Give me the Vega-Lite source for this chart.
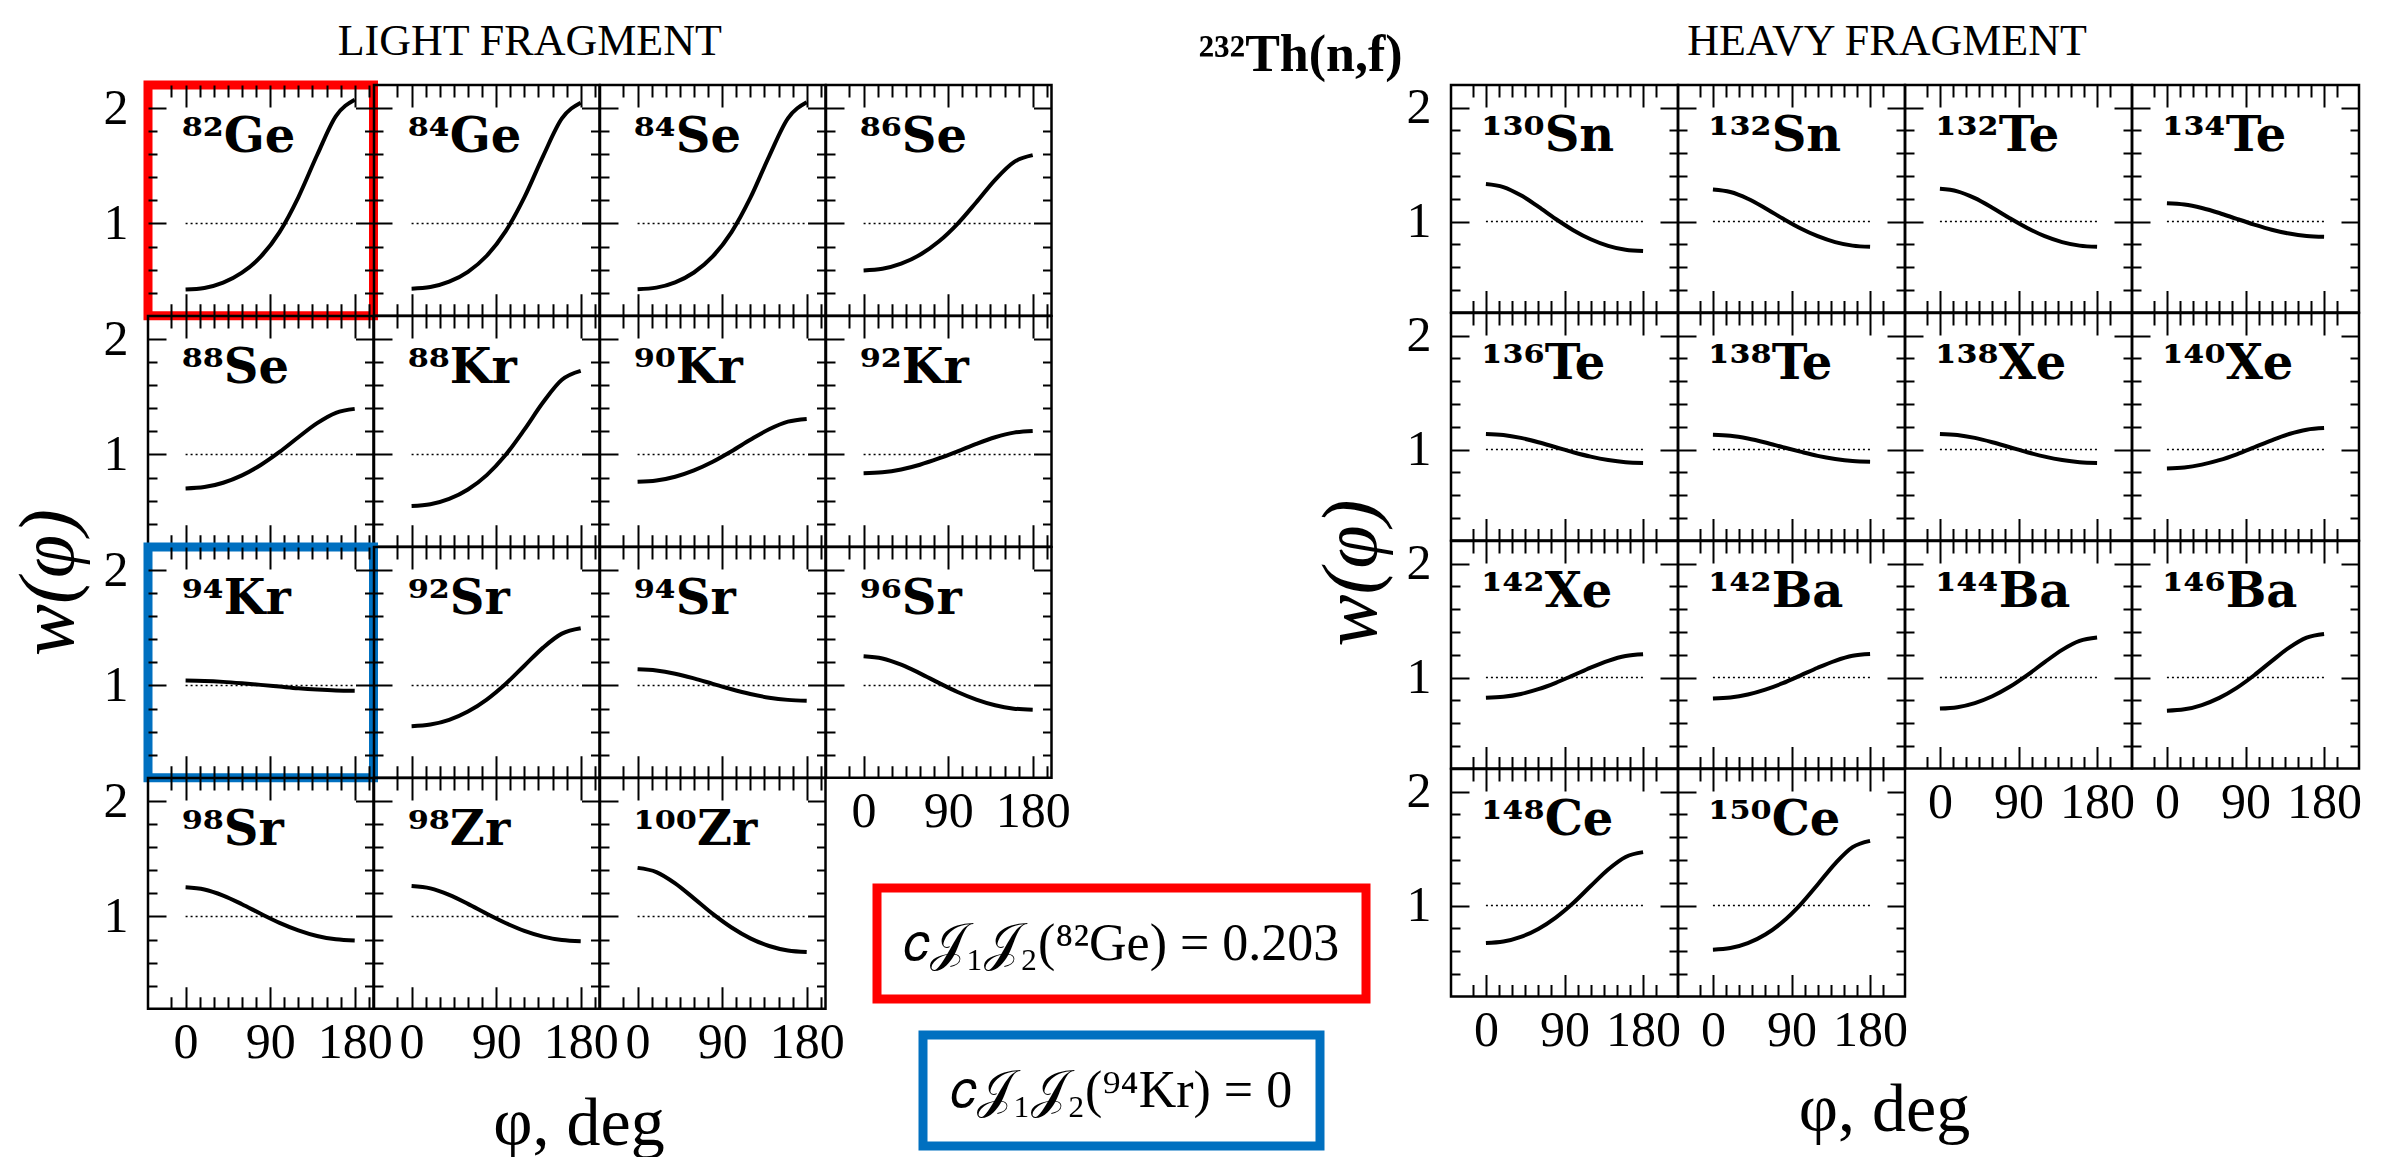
{
"$schema": "https://vega.github.io/schema/vega-lite/v6.json",
"background": "white",
"padding": {"left": 8, "top": 18, "right": 5, "bottom": 5},
"datasets": {"d": [
{"n":"82Ge","phi":0,"w":0.427},{"n":"82Ge","phi":20,"w":0.441},{"n":"82Ge","phi":40,"w":0.487},{"n":"82Ge","phi":60,"w":0.573},{"n":"82Ge","phi":80,"w":0.712},{"n":"82Ge","phi":100,"w":0.925},{"n":"82Ge","phi":120,"w":1.227},{"n":"82Ge","phi":140,"w":1.593},{"n":"82Ge","phi":160,"w":1.931},{"n":"82Ge","phi":180,"w":2.073},
{"n":"84Ge","phi":0,"w":0.435},{"n":"84Ge","phi":20,"w":0.449},{"n":"84Ge","phi":40,"w":0.495},{"n":"84Ge","phi":60,"w":0.581},{"n":"84Ge","phi":80,"w":0.720},{"n":"84Ge","phi":100,"w":0.931},{"n":"84Ge","phi":120,"w":1.226},{"n":"84Ge","phi":140,"w":1.584},{"n":"84Ge","phi":160,"w":1.910},{"n":"84Ge","phi":180,"w":2.047},
{"n":"84Se","phi":0,"w":0.430},{"n":"84Se","phi":20,"w":0.444},{"n":"84Se","phi":40,"w":0.490},{"n":"84Se","phi":60,"w":0.575},{"n":"84Se","phi":80,"w":0.714},{"n":"84Se","phi":100,"w":0.925},{"n":"84Se","phi":120,"w":1.221},{"n":"84Se","phi":140,"w":1.582},{"n":"84Se","phi":160,"w":1.911},{"n":"84Se","phi":180,"w":2.050},
{"n":"86Se","phi":0,"w":0.593},{"n":"86Se","phi":20,"w":0.607},{"n":"86Se","phi":40,"w":0.651},{"n":"86Se","phi":60,"w":0.728},{"n":"86Se","phi":80,"w":0.843},{"n":"86Se","phi":100,"w":0.997},{"n":"86Se","phi":120,"w":1.184},{"n":"86Se","phi":140,"w":1.378},{"n":"86Se","phi":160,"w":1.532},{"n":"86Se","phi":180,"w":1.592},
{"n":"88Se","phi":0,"w":0.705},{"n":"88Se","phi":20,"w":0.717},{"n":"88Se","phi":40,"w":0.755},{"n":"88Se","phi":60,"w":0.819},{"n":"88Se","phi":80,"w":0.909},{"n":"88Se","phi":100,"w":1.022},{"n":"88Se","phi":120,"w":1.149},{"n":"88Se","phi":140,"w":1.271},{"n":"88Se","phi":160,"w":1.361},{"n":"88Se","phi":180,"w":1.395},
{"n":"88Kr","phi":0,"w":0.553},{"n":"88Kr","phi":20,"w":0.568},{"n":"88Kr","phi":40,"w":0.614},{"n":"88Kr","phi":60,"w":0.696},{"n":"88Kr","phi":80,"w":0.821},{"n":"88Kr","phi":100,"w":0.995},{"n":"88Kr","phi":120,"w":1.215},{"n":"88Kr","phi":140,"w":1.452},{"n":"88Kr","phi":160,"w":1.647},{"n":"88Kr","phi":180,"w":1.724},
{"n":"90Kr","phi":0,"w":0.763},{"n":"90Kr","phi":20,"w":0.774},{"n":"90Kr","phi":40,"w":0.807},{"n":"90Kr","phi":60,"w":0.862},{"n":"90Kr","phi":80,"w":0.937},{"n":"90Kr","phi":100,"w":1.028},{"n":"90Kr","phi":120,"w":1.127},{"n":"90Kr","phi":140,"w":1.218},{"n":"90Kr","phi":160,"w":1.284},{"n":"90Kr","phi":180,"w":1.308},
{"n":"92Kr","phi":0,"w":0.837},{"n":"92Kr","phi":20,"w":0.845},{"n":"92Kr","phi":40,"w":0.870},{"n":"92Kr","phi":60,"w":0.911},{"n":"92Kr","phi":80,"w":0.965},{"n":"92Kr","phi":100,"w":1.027},{"n":"92Kr","phi":120,"w":1.092},{"n":"92Kr","phi":140,"w":1.149},{"n":"92Kr","phi":160,"w":1.189},{"n":"92Kr","phi":180,"w":1.203},
{"n":"94Kr","phi":0,"w":1.042},{"n":"94Kr","phi":20,"w":1.039},{"n":"94Kr","phi":40,"w":1.031},{"n":"94Kr","phi":60,"w":1.019},{"n":"94Kr","phi":80,"w":1.005},{"n":"94Kr","phi":100,"w":0.990},{"n":"94Kr","phi":120,"w":0.975},{"n":"94Kr","phi":140,"w":0.964},{"n":"94Kr","phi":160,"w":0.957},{"n":"94Kr","phi":180,"w":0.955},
{"n":"92Sr","phi":0,"w":0.647},{"n":"92Sr","phi":20,"w":0.661},{"n":"92Sr","phi":40,"w":0.702},{"n":"92Sr","phi":60,"w":0.774},{"n":"92Sr","phi":80,"w":0.878},{"n":"92Sr","phi":100,"w":1.013},{"n":"92Sr","phi":120,"w":1.171},{"n":"92Sr","phi":140,"w":1.328},{"n":"92Sr","phi":160,"w":1.449},{"n":"92Sr","phi":180,"w":1.495},
{"n":"94Sr","phi":0,"w":1.140},{"n":"94Sr","phi":20,"w":1.130},{"n":"94Sr","phi":40,"w":1.102},{"n":"94Sr","phi":60,"w":1.061},{"n":"94Sr","phi":80,"w":1.014},{"n":"94Sr","phi":100,"w":0.967},{"n":"94Sr","phi":120,"w":0.926},{"n":"94Sr","phi":140,"w":0.894},{"n":"94Sr","phi":160,"w":0.875},{"n":"94Sr","phi":180,"w":0.868},
{"n":"96Sr","phi":0,"w":1.253},{"n":"96Sr","phi":20,"w":1.234},{"n":"96Sr","phi":40,"w":1.180},{"n":"96Sr","phi":60,"w":1.105},{"n":"96Sr","phi":80,"w":1.022},{"n":"96Sr","phi":100,"w":0.943},{"n":"96Sr","phi":120,"w":0.877},{"n":"96Sr","phi":140,"w":0.828},{"n":"96Sr","phi":160,"w":0.799},{"n":"96Sr","phi":180,"w":0.789},
{"n":"98Sr","phi":0,"w":1.253},{"n":"98Sr","phi":20,"w":1.234},{"n":"98Sr","phi":40,"w":1.181},{"n":"98Sr","phi":60,"w":1.106},{"n":"98Sr","phi":80,"w":1.023},{"n":"98Sr","phi":100,"w":0.945},{"n":"98Sr","phi":120,"w":0.880},{"n":"98Sr","phi":140,"w":0.831},{"n":"98Sr","phi":160,"w":0.802},{"n":"98Sr","phi":180,"w":0.792},
{"n":"98Zr","phi":0,"w":1.263},{"n":"98Zr","phi":20,"w":1.243},{"n":"98Zr","phi":40,"w":1.187},{"n":"98Zr","phi":60,"w":1.109},{"n":"98Zr","phi":80,"w":1.023},{"n":"98Zr","phi":100,"w":0.943},{"n":"98Zr","phi":120,"w":0.875},{"n":"98Zr","phi":140,"w":0.825},{"n":"98Zr","phi":160,"w":0.795},{"n":"98Zr","phi":180,"w":0.785},
{"n":"100Zr","phi":0,"w":1.421},{"n":"100Zr","phi":20,"w":1.385},{"n":"100Zr","phi":40,"w":1.287},{"n":"100Zr","phi":60,"w":1.157},{"n":"100Zr","phi":80,"w":1.022},{"n":"100Zr","phi":100,"w":0.904},{"n":"100Zr","phi":120,"w":0.810},{"n":"100Zr","phi":140,"w":0.744},{"n":"100Zr","phi":160,"w":0.705},{"n":"100Zr","phi":180,"w":0.692},
{"n":"130Sn","phi":0,"w":1.330},{"n":"130Sn","phi":20,"w":1.303},{"n":"130Sn","phi":40,"w":1.230},{"n":"130Sn","phi":60,"w":1.130},{"n":"130Sn","phi":80,"w":1.022},{"n":"130Sn","phi":100,"w":0.924},{"n":"130Sn","phi":120,"w":0.844},{"n":"130Sn","phi":140,"w":0.786},{"n":"130Sn","phi":160,"w":0.751},{"n":"130Sn","phi":180,"w":0.740},
{"n":"132Sn","phi":0,"w":1.281},{"n":"132Sn","phi":20,"w":1.259},{"n":"132Sn","phi":40,"w":1.200},{"n":"132Sn","phi":60,"w":1.117},{"n":"132Sn","phi":80,"w":1.026},{"n":"132Sn","phi":100,"w":0.941},{"n":"132Sn","phi":120,"w":0.871},{"n":"132Sn","phi":140,"w":0.819},{"n":"132Sn","phi":160,"w":0.788},{"n":"132Sn","phi":180,"w":0.777},
{"n":"132Te","phi":0,"w":1.287},{"n":"132Te","phi":20,"w":1.265},{"n":"132Te","phi":40,"w":1.205},{"n":"132Te","phi":60,"w":1.121},{"n":"132Te","phi":80,"w":1.029},{"n":"132Te","phi":100,"w":0.943},{"n":"132Te","phi":120,"w":0.871},{"n":"132Te","phi":140,"w":0.819},{"n":"132Te","phi":160,"w":0.788},{"n":"132Te","phi":180,"w":0.777},
{"n":"134Te","phi":0,"w":1.161},{"n":"134Te","phi":20,"w":1.150},{"n":"134Te","phi":40,"w":1.119},{"n":"134Te","phi":60,"w":1.075},{"n":"134Te","phi":80,"w":1.023},{"n":"134Te","phi":100,"w":0.973},{"n":"134Te","phi":120,"w":0.928},{"n":"134Te","phi":140,"w":0.894},{"n":"134Te","phi":160,"w":0.873},{"n":"134Te","phi":180,"w":0.866},
{"n":"136Te","phi":0,"w":1.137},{"n":"136Te","phi":20,"w":1.128},{"n":"136Te","phi":40,"w":1.102},{"n":"136Te","phi":60,"w":1.064},{"n":"136Te","phi":80,"w":1.020},{"n":"136Te","phi":100,"w":0.976},{"n":"136Te","phi":120,"w":0.937},{"n":"136Te","phi":140,"w":0.907},{"n":"136Te","phi":160,"w":0.888},{"n":"136Te","phi":180,"w":0.882},
{"n":"138Te","phi":0,"w":1.129},{"n":"138Te","phi":20,"w":1.121},{"n":"138Te","phi":40,"w":1.097},{"n":"138Te","phi":60,"w":1.062},{"n":"138Te","phi":80,"w":1.021},{"n":"138Te","phi":100,"w":0.981},{"n":"138Te","phi":120,"w":0.944},{"n":"138Te","phi":140,"w":0.917},{"n":"138Te","phi":160,"w":0.899},{"n":"138Te","phi":180,"w":0.893},
{"n":"138Xe","phi":0,"w":1.137},{"n":"138Xe","phi":20,"w":1.128},{"n":"138Xe","phi":40,"w":1.102},{"n":"138Xe","phi":60,"w":1.064},{"n":"138Xe","phi":80,"w":1.020},{"n":"138Xe","phi":100,"w":0.976},{"n":"138Xe","phi":120,"w":0.937},{"n":"138Xe","phi":140,"w":0.907},{"n":"138Xe","phi":160,"w":0.888},{"n":"138Xe","phi":180,"w":0.882},
{"n":"140Xe","phi":0,"w":0.834},{"n":"140Xe","phi":20,"w":0.842},{"n":"140Xe","phi":40,"w":0.867},{"n":"140Xe","phi":60,"w":0.906},{"n":"140Xe","phi":80,"w":0.958},{"n":"140Xe","phi":100,"w":1.019},{"n":"140Xe","phi":120,"w":1.081},{"n":"140Xe","phi":140,"w":1.136},{"n":"140Xe","phi":160,"w":1.174},{"n":"140Xe","phi":180,"w":1.188},
{"n":"142Xe","phi":0,"w":0.821},{"n":"142Xe","phi":20,"w":0.830},{"n":"142Xe","phi":40,"w":0.855},{"n":"142Xe","phi":60,"w":0.897},{"n":"142Xe","phi":80,"w":0.953},{"n":"142Xe","phi":100,"w":1.019},{"n":"142Xe","phi":120,"w":1.087},{"n":"142Xe","phi":140,"w":1.147},{"n":"142Xe","phi":160,"w":1.189},{"n":"142Xe","phi":180,"w":1.204},
{"n":"142Ba","phi":0,"w":0.816},{"n":"142Ba","phi":20,"w":0.825},{"n":"142Ba","phi":40,"w":0.851},{"n":"142Ba","phi":60,"w":0.894},{"n":"142Ba","phi":80,"w":0.950},{"n":"142Ba","phi":100,"w":1.017},{"n":"142Ba","phi":120,"w":1.086},{"n":"142Ba","phi":140,"w":1.147},{"n":"142Ba","phi":160,"w":1.191},{"n":"142Ba","phi":180,"w":1.206},
{"n":"144Ba","phi":0,"w":0.727},{"n":"144Ba","phi":20,"w":0.739},{"n":"144Ba","phi":40,"w":0.775},{"n":"144Ba","phi":60,"w":0.835},{"n":"144Ba","phi":80,"w":0.918},{"n":"144Ba","phi":100,"w":1.021},{"n":"144Ba","phi":120,"w":1.135},{"n":"144Ba","phi":140,"w":1.243},{"n":"144Ba","phi":160,"w":1.322},{"n":"144Ba","phi":180,"w":1.351},
{"n":"146Ba","phi":0,"w":0.708},{"n":"146Ba","phi":20,"w":0.720},{"n":"146Ba","phi":40,"w":0.758},{"n":"146Ba","phi":60,"w":0.821},{"n":"146Ba","phi":80,"w":0.909},{"n":"146Ba","phi":100,"w":1.020},{"n":"146Ba","phi":120,"w":1.144},{"n":"146Ba","phi":140,"w":1.263},{"n":"146Ba","phi":160,"w":1.351},{"n":"146Ba","phi":180,"w":1.383},
{"n":"148Ce","phi":0,"w":0.670},{"n":"148Ce","phi":20,"w":0.683},{"n":"148Ce","phi":40,"w":0.724},{"n":"148Ce","phi":60,"w":0.794},{"n":"148Ce","phi":80,"w":0.894},{"n":"148Ce","phi":100,"w":1.022},{"n":"148Ce","phi":120,"w":1.171},{"n":"148Ce","phi":140,"w":1.317},{"n":"148Ce","phi":160,"w":1.427},{"n":"148Ce","phi":180,"w":1.469},
{"n":"150Ce","phi":0,"w":0.612},{"n":"150Ce","phi":20,"w":0.626},{"n":"150Ce","phi":40,"w":0.669},{"n":"150Ce","phi":60,"w":0.745},{"n":"150Ce","phi":80,"w":0.857},{"n":"150Ce","phi":100,"w":1.006},{"n":"150Ce","phi":120,"w":1.185},{"n":"150Ce","phi":140,"w":1.369},{"n":"150Ce","phi":160,"w":1.513},{"n":"150Ce","phi":180,"w":1.568}
]},
"hconcat": [
{"columns": 4, "spacing": 0, "bounds": "flush", "concat": [
{"width":225.5,"height":230.75,"view":{"stroke":"#ff0000","strokeWidth":9},"data":{"name":"d"},"transform":[{"filter":"datum.n==='82Ge'"}],"layer":[
 {"mark":{"type":"line","interpolate":"monotone"},"encoding":{"x":{"field":"phi","type":"quantitative","scale":{"domain":[-27,199.5]},"title":null,"axis":{"values":[-15,0,15,30,45,60,75,90,105,120,135,150,165,180,195]}},"y":{"field":"w","type":"quantitative","scale":{"domain":[0.343,2.166]},"title":null,"axis":{"values":[0.4,0.6,0.8,1,1.2,1.4,1.6,1.8,2],"labels":true,"labelOverlap":false}}}},
 {"data":{"values":[{}]},"mark":{"type":"rule","strokeDash":[2,3],"strokeWidth":1.5},"encoding":{"x":{"datum":0,"type":"quantitative","title":null,"axis":{"orient":"top","values":[-15,0,15,30,45,60,75,90,105,120,135,150,165,180,195]}},"x2":{"datum":180},"y":{"datum":1,"type":"quantitative","title":null,"axis":{"orient":"right","values":[0.4,0.6,0.8,1,1.2,1.4,1.6,1.8,2]}}}},
 {"data":{"values":[{}]},"mark":{"type":"text","text":"⁸²Ge"},"encoding":{"x":{"datum":-4,"type":"quantitative","axis":null},"y":{"datum":1.62,"type":"quantitative","axis":null}}}
],"resolve":{"axis":{"x":"independent","y":"independent"}}},
{"width":225.5,"height":230.75,"title":{"text":"LIGHT FRAGMENT","fontSize":44,"dx":43,"offset":-15,"baseline":"alphabetic"},"data":{"name":"d"},"transform":[{"filter":"datum.n==='84Ge'"}],"layer":[
 {"mark":{"type":"line","interpolate":"monotone"},"encoding":{"x":{"field":"phi","type":"quantitative","scale":{"domain":[-27,199.5]},"title":null,"axis":{"values":[-15,0,15,30,45,60,75,90,105,120,135,150,165,180,195]}},"y":{"field":"w","type":"quantitative","scale":{"domain":[0.343,2.166]},"title":null,"axis":{"values":[0.4,0.6,0.8,1,1.2,1.4,1.6,1.8,2]}}}},
 {"data":{"values":[{}]},"mark":{"type":"rule","strokeDash":[2,3],"strokeWidth":1.5},"encoding":{"x":{"datum":0,"type":"quantitative","title":null,"axis":{"orient":"top","values":[-15,0,15,30,45,60,75,90,105,120,135,150,165,180,195]}},"x2":{"datum":180},"y":{"datum":1,"type":"quantitative","title":null,"axis":{"orient":"right","values":[0.4,0.6,0.8,1,1.2,1.4,1.6,1.8,2]}}}},
 {"data":{"values":[{}]},"mark":{"type":"text","text":"⁸⁴Ge"},"encoding":{"x":{"datum":-4,"type":"quantitative","axis":null},"y":{"datum":1.62,"type":"quantitative","axis":null}}}
],"resolve":{"axis":{"x":"independent","y":"independent"}}},
{"width":225.5,"height":230.75,"data":{"name":"d"},"transform":[{"filter":"datum.n==='84Se'"}],"layer":[
 {"mark":{"type":"line","interpolate":"monotone"},"encoding":{"x":{"field":"phi","type":"quantitative","scale":{"domain":[-27,199.5]},"title":null,"axis":{"values":[-15,0,15,30,45,60,75,90,105,120,135,150,165,180,195]}},"y":{"field":"w","type":"quantitative","scale":{"domain":[0.343,2.166]},"title":null,"axis":{"values":[0.4,0.6,0.8,1,1.2,1.4,1.6,1.8,2]}}}},
 {"data":{"values":[{}]},"mark":{"type":"rule","strokeDash":[2,3],"strokeWidth":1.5},"encoding":{"x":{"datum":0,"type":"quantitative","title":null,"axis":{"orient":"top","values":[-15,0,15,30,45,60,75,90,105,120,135,150,165,180,195]}},"x2":{"datum":180},"y":{"datum":1,"type":"quantitative","title":null,"axis":{"orient":"right","values":[0.4,0.6,0.8,1,1.2,1.4,1.6,1.8,2]}}}},
 {"data":{"values":[{}]},"mark":{"type":"text","text":"⁸⁴Se"},"encoding":{"x":{"datum":-4,"type":"quantitative","axis":null},"y":{"datum":1.62,"type":"quantitative","axis":null}}}
],"resolve":{"axis":{"x":"independent","y":"independent"}}},
{"width":225.5,"height":230.75,"data":{"name":"d"},"transform":[{"filter":"datum.n==='86Se'"}],"layer":[
 {"mark":{"type":"line","interpolate":"monotone"},"encoding":{"x":{"field":"phi","type":"quantitative","scale":{"domain":[-27,199.5]},"title":null,"axis":{"values":[-15,0,15,30,45,60,75,90,105,120,135,150,165,180,195]}},"y":{"field":"w","type":"quantitative","scale":{"domain":[0.343,2.166]},"title":null,"axis":{"values":[0.4,0.6,0.8,1,1.2,1.4,1.6,1.8,2]}}}},
 {"data":{"values":[{}]},"mark":{"type":"rule","strokeDash":[2,3],"strokeWidth":1.5},"encoding":{"x":{"datum":0,"type":"quantitative","title":null,"axis":{"orient":"top","values":[-15,0,15,30,45,60,75,90,105,120,135,150,165,180,195]}},"x2":{"datum":180},"y":{"datum":1,"type":"quantitative","title":null,"axis":{"orient":"right","values":[0.4,0.6,0.8,1,1.2,1.4,1.6,1.8,2]}}}},
 {"data":{"values":[{}]},"mark":{"type":"text","text":"⁸⁶Se"},"encoding":{"x":{"datum":-4,"type":"quantitative","axis":null},"y":{"datum":1.62,"type":"quantitative","axis":null}}}
],"resolve":{"axis":{"x":"independent","y":"independent"}}},
{"width":225.5,"height":230.75,"data":{"name":"d"},"transform":[{"filter":"datum.n==='88Se'"}],"layer":[
 {"mark":{"type":"line","interpolate":"monotone"},"encoding":{"x":{"field":"phi","type":"quantitative","scale":{"domain":[-27,199.5]},"title":null,"axis":{"values":[-15,0,15,30,45,60,75,90,105,120,135,150,165,180,195]}},"y":{"field":"w","type":"quantitative","scale":{"domain":[0.343,2.166]},"title":"w(φ)","axis":{"values":[0.4,0.6,0.8,1,1.2,1.4,1.6,1.8,2],"labels":true,"labelOverlap":false,"titleFontSize":78,"titleFontStyle":"italic","titleX":-76,"titleY":266,"titleAngle":270,"titleAlign":"center","titleBaseline":"alphabetic"}}}},
 {"data":{"values":[{}]},"mark":{"type":"rule","strokeDash":[2,3],"strokeWidth":1.5},"encoding":{"x":{"datum":0,"type":"quantitative","title":null,"axis":{"orient":"top","values":[-15,0,15,30,45,60,75,90,105,120,135,150,165,180,195]}},"x2":{"datum":180},"y":{"datum":1,"type":"quantitative","title":null,"axis":{"orient":"right","values":[0.4,0.6,0.8,1,1.2,1.4,1.6,1.8,2]}}}},
 {"data":{"values":[{}]},"mark":{"type":"text","text":"⁸⁸Se"},"encoding":{"x":{"datum":-4,"type":"quantitative","axis":null},"y":{"datum":1.62,"type":"quantitative","axis":null}}}
],"resolve":{"axis":{"x":"independent","y":"independent"}}},
{"width":225.5,"height":230.75,"data":{"name":"d"},"transform":[{"filter":"datum.n==='88Kr'"}],"layer":[
 {"mark":{"type":"line","interpolate":"monotone"},"encoding":{"x":{"field":"phi","type":"quantitative","scale":{"domain":[-27,199.5]},"title":null,"axis":{"values":[-15,0,15,30,45,60,75,90,105,120,135,150,165,180,195]}},"y":{"field":"w","type":"quantitative","scale":{"domain":[0.343,2.166]},"title":null,"axis":{"values":[0.4,0.6,0.8,1,1.2,1.4,1.6,1.8,2]}}}},
 {"data":{"values":[{}]},"mark":{"type":"rule","strokeDash":[2,3],"strokeWidth":1.5},"encoding":{"x":{"datum":0,"type":"quantitative","title":null,"axis":{"orient":"top","values":[-15,0,15,30,45,60,75,90,105,120,135,150,165,180,195]}},"x2":{"datum":180},"y":{"datum":1,"type":"quantitative","title":null,"axis":{"orient":"right","values":[0.4,0.6,0.8,1,1.2,1.4,1.6,1.8,2]}}}},
 {"data":{"values":[{}]},"mark":{"type":"text","text":"⁸⁸Kr"},"encoding":{"x":{"datum":-4,"type":"quantitative","axis":null},"y":{"datum":1.62,"type":"quantitative","axis":null}}}
],"resolve":{"axis":{"x":"independent","y":"independent"}}},
{"width":225.5,"height":230.75,"data":{"name":"d"},"transform":[{"filter":"datum.n==='90Kr'"}],"layer":[
 {"mark":{"type":"line","interpolate":"monotone"},"encoding":{"x":{"field":"phi","type":"quantitative","scale":{"domain":[-27,199.5]},"title":null,"axis":{"values":[-15,0,15,30,45,60,75,90,105,120,135,150,165,180,195]}},"y":{"field":"w","type":"quantitative","scale":{"domain":[0.343,2.166]},"title":null,"axis":{"values":[0.4,0.6,0.8,1,1.2,1.4,1.6,1.8,2]}}}},
 {"data":{"values":[{}]},"mark":{"type":"rule","strokeDash":[2,3],"strokeWidth":1.5},"encoding":{"x":{"datum":0,"type":"quantitative","title":null,"axis":{"orient":"top","values":[-15,0,15,30,45,60,75,90,105,120,135,150,165,180,195]}},"x2":{"datum":180},"y":{"datum":1,"type":"quantitative","title":null,"axis":{"orient":"right","values":[0.4,0.6,0.8,1,1.2,1.4,1.6,1.8,2]}}}},
 {"data":{"values":[{}]},"mark":{"type":"text","text":"⁹⁰Kr"},"encoding":{"x":{"datum":-4,"type":"quantitative","axis":null},"y":{"datum":1.62,"type":"quantitative","axis":null}}}
],"resolve":{"axis":{"x":"independent","y":"independent"}}},
{"width":225.5,"height":230.75,"data":{"name":"d"},"transform":[{"filter":"datum.n==='92Kr'"}],"layer":[
 {"mark":{"type":"line","interpolate":"monotone"},"encoding":{"x":{"field":"phi","type":"quantitative","scale":{"domain":[-27,199.5]},"title":null,"axis":{"values":[-15,0,15,30,45,60,75,90,105,120,135,150,165,180,195]}},"y":{"field":"w","type":"quantitative","scale":{"domain":[0.343,2.166]},"title":null,"axis":{"values":[0.4,0.6,0.8,1,1.2,1.4,1.6,1.8,2]}}}},
 {"data":{"values":[{}]},"mark":{"type":"rule","strokeDash":[2,3],"strokeWidth":1.5},"encoding":{"x":{"datum":0,"type":"quantitative","title":null,"axis":{"orient":"top","values":[-15,0,15,30,45,60,75,90,105,120,135,150,165,180,195]}},"x2":{"datum":180},"y":{"datum":1,"type":"quantitative","title":null,"axis":{"orient":"right","values":[0.4,0.6,0.8,1,1.2,1.4,1.6,1.8,2]}}}},
 {"data":{"values":[{}]},"mark":{"type":"text","text":"⁹²Kr"},"encoding":{"x":{"datum":-4,"type":"quantitative","axis":null},"y":{"datum":1.62,"type":"quantitative","axis":null}}}
],"resolve":{"axis":{"x":"independent","y":"independent"}}},
{"width":225.5,"height":230.75,"view":{"stroke":"#0070c0","strokeWidth":9},"data":{"name":"d"},"transform":[{"filter":"datum.n==='94Kr'"}],"layer":[
 {"mark":{"type":"line","interpolate":"monotone"},"encoding":{"x":{"field":"phi","type":"quantitative","scale":{"domain":[-27,199.5]},"title":null,"axis":{"values":[-15,0,15,30,45,60,75,90,105,120,135,150,165,180,195]}},"y":{"field":"w","type":"quantitative","scale":{"domain":[0.343,2.166]},"title":null,"axis":{"values":[0.4,0.6,0.8,1,1.2,1.4,1.6,1.8,2],"labels":true,"labelOverlap":false}}}},
 {"data":{"values":[{}]},"mark":{"type":"rule","strokeDash":[2,3],"strokeWidth":1.5},"encoding":{"x":{"datum":0,"type":"quantitative","title":null,"axis":{"orient":"top","values":[-15,0,15,30,45,60,75,90,105,120,135,150,165,180,195]}},"x2":{"datum":180},"y":{"datum":1,"type":"quantitative","title":null,"axis":{"orient":"right","values":[0.4,0.6,0.8,1,1.2,1.4,1.6,1.8,2]}}}},
 {"data":{"values":[{}]},"mark":{"type":"text","text":"⁹⁴Kr"},"encoding":{"x":{"datum":-4,"type":"quantitative","axis":null},"y":{"datum":1.62,"type":"quantitative","axis":null}}}
],"resolve":{"axis":{"x":"independent","y":"independent"}}},
{"width":225.5,"height":230.75,"data":{"name":"d"},"transform":[{"filter":"datum.n==='92Sr'"}],"layer":[
 {"mark":{"type":"line","interpolate":"monotone"},"encoding":{"x":{"field":"phi","type":"quantitative","scale":{"domain":[-27,199.5]},"title":null,"axis":{"values":[-15,0,15,30,45,60,75,90,105,120,135,150,165,180,195]}},"y":{"field":"w","type":"quantitative","scale":{"domain":[0.343,2.166]},"title":null,"axis":{"values":[0.4,0.6,0.8,1,1.2,1.4,1.6,1.8,2]}}}},
 {"data":{"values":[{}]},"mark":{"type":"rule","strokeDash":[2,3],"strokeWidth":1.5},"encoding":{"x":{"datum":0,"type":"quantitative","title":null,"axis":{"orient":"top","values":[-15,0,15,30,45,60,75,90,105,120,135,150,165,180,195]}},"x2":{"datum":180},"y":{"datum":1,"type":"quantitative","title":null,"axis":{"orient":"right","values":[0.4,0.6,0.8,1,1.2,1.4,1.6,1.8,2]}}}},
 {"data":{"values":[{}]},"mark":{"type":"text","text":"⁹²Sr"},"encoding":{"x":{"datum":-4,"type":"quantitative","axis":null},"y":{"datum":1.62,"type":"quantitative","axis":null}}}
],"resolve":{"axis":{"x":"independent","y":"independent"}}},
{"width":225.5,"height":230.75,"data":{"name":"d"},"transform":[{"filter":"datum.n==='94Sr'"}],"layer":[
 {"mark":{"type":"line","interpolate":"monotone"},"encoding":{"x":{"field":"phi","type":"quantitative","scale":{"domain":[-27,199.5]},"title":null,"axis":{"values":[-15,0,15,30,45,60,75,90,105,120,135,150,165,180,195]}},"y":{"field":"w","type":"quantitative","scale":{"domain":[0.343,2.166]},"title":null,"axis":{"values":[0.4,0.6,0.8,1,1.2,1.4,1.6,1.8,2]}}}},
 {"data":{"values":[{}]},"mark":{"type":"rule","strokeDash":[2,3],"strokeWidth":1.5},"encoding":{"x":{"datum":0,"type":"quantitative","title":null,"axis":{"orient":"top","values":[-15,0,15,30,45,60,75,90,105,120,135,150,165,180,195]}},"x2":{"datum":180},"y":{"datum":1,"type":"quantitative","title":null,"axis":{"orient":"right","values":[0.4,0.6,0.8,1,1.2,1.4,1.6,1.8,2]}}}},
 {"data":{"values":[{}]},"mark":{"type":"text","text":"⁹⁴Sr"},"encoding":{"x":{"datum":-4,"type":"quantitative","axis":null},"y":{"datum":1.62,"type":"quantitative","axis":null}}}
],"resolve":{"axis":{"x":"independent","y":"independent"}}},
{"width":225.5,"height":230.75,"data":{"name":"d"},"transform":[{"filter":"datum.n==='96Sr'"}],"layer":[
 {"mark":{"type":"line","interpolate":"monotone"},"encoding":{"x":{"field":"phi","type":"quantitative","scale":{"domain":[-27,199.5]},"title":null,"axis":{"values":[-15,0,15,30,45,60,75,90,105,120,135,150,165,180,195],"labels":true,"labelOverlap":false,"labelFlush":false}},"y":{"field":"w","type":"quantitative","scale":{"domain":[0.343,2.166]},"title":null,"axis":{"values":[0.4,0.6,0.8,1,1.2,1.4,1.6,1.8,2]}}}},
 {"data":{"values":[{}]},"mark":{"type":"rule","strokeDash":[2,3],"strokeWidth":1.5},"encoding":{"x":{"datum":0,"type":"quantitative","title":null,"axis":{"orient":"top","values":[-15,0,15,30,45,60,75,90,105,120,135,150,165,180,195]}},"x2":{"datum":180},"y":{"datum":1,"type":"quantitative","title":null,"axis":{"orient":"right","values":[0.4,0.6,0.8,1,1.2,1.4,1.6,1.8,2]}}}},
 {"data":{"values":[{}]},"mark":{"type":"text","text":"⁹⁶Sr"},"encoding":{"x":{"datum":-4,"type":"quantitative","axis":null},"y":{"datum":1.62,"type":"quantitative","axis":null}}}
],"resolve":{"axis":{"x":"independent","y":"independent"}}},
{"width":225.5,"height":230.75,"data":{"name":"d"},"transform":[{"filter":"datum.n==='98Sr'"}],"layer":[
 {"mark":{"type":"line","interpolate":"monotone"},"encoding":{"x":{"field":"phi","type":"quantitative","scale":{"domain":[-27,199.5]},"title":null,"axis":{"values":[-15,0,15,30,45,60,75,90,105,120,135,150,165,180,195],"labels":true,"labelOverlap":false,"labelFlush":false}},"y":{"field":"w","type":"quantitative","scale":{"domain":[0.343,2.166]},"title":null,"axis":{"values":[0.4,0.6,0.8,1,1.2,1.4,1.6,1.8,2],"labels":true,"labelOverlap":false}}}},
 {"data":{"values":[{}]},"mark":{"type":"rule","strokeDash":[2,3],"strokeWidth":1.5},"encoding":{"x":{"datum":0,"type":"quantitative","title":null,"axis":{"orient":"top","values":[-15,0,15,30,45,60,75,90,105,120,135,150,165,180,195]}},"x2":{"datum":180},"y":{"datum":1,"type":"quantitative","title":null,"axis":{"orient":"right","values":[0.4,0.6,0.8,1,1.2,1.4,1.6,1.8,2]}}}},
 {"data":{"values":[{}]},"mark":{"type":"text","text":"⁹⁸Sr"},"encoding":{"x":{"datum":-4,"type":"quantitative","axis":null},"y":{"datum":1.62,"type":"quantitative","axis":null}}}
],"resolve":{"axis":{"x":"independent","y":"independent"}}},
{"width":225.5,"height":230.75,"data":{"name":"d"},"transform":[{"filter":"datum.n==='98Zr'"}],"layer":[
 {"mark":{"type":"line","interpolate":"monotone"},"encoding":{"x":{"field":"phi","type":"quantitative","scale":{"domain":[-27,199.5]},"title":"φ, deg","axis":{"values":[-15,0,15,30,45,60,75,90,105,120,135,150,165,180,195],"labels":true,"labelOverlap":false,"labelFlush":false,"titleFontSize":68,"titleX":204.5,"titleY":136,"titleAlign":"center","titleBaseline":"alphabetic","titleAngle":0}},"y":{"field":"w","type":"quantitative","scale":{"domain":[0.343,2.166]},"title":null,"axis":{"values":[0.4,0.6,0.8,1,1.2,1.4,1.6,1.8,2]}}}},
 {"data":{"values":[{}]},"mark":{"type":"rule","strokeDash":[2,3],"strokeWidth":1.5},"encoding":{"x":{"datum":0,"type":"quantitative","title":null,"axis":{"orient":"top","values":[-15,0,15,30,45,60,75,90,105,120,135,150,165,180,195]}},"x2":{"datum":180},"y":{"datum":1,"type":"quantitative","title":null,"axis":{"orient":"right","values":[0.4,0.6,0.8,1,1.2,1.4,1.6,1.8,2]}}}},
 {"data":{"values":[{}]},"mark":{"type":"text","text":"⁹⁸Zr"},"encoding":{"x":{"datum":-4,"type":"quantitative","axis":null},"y":{"datum":1.62,"type":"quantitative","axis":null}}}
],"resolve":{"axis":{"x":"independent","y":"independent"}}},
{"width":225.5,"height":230.75,"data":{"name":"d"},"transform":[{"filter":"datum.n==='100Zr'"}],"layer":[
 {"mark":{"type":"line","interpolate":"monotone"},"encoding":{"x":{"field":"phi","type":"quantitative","scale":{"domain":[-27,199.5]},"title":null,"axis":{"values":[-15,0,15,30,45,60,75,90,105,120,135,150,165,180,195],"labels":true,"labelOverlap":false,"labelFlush":false}},"y":{"field":"w","type":"quantitative","scale":{"domain":[0.343,2.166]},"title":null,"axis":{"values":[0.4,0.6,0.8,1,1.2,1.4,1.6,1.8,2]}}}},
 {"data":{"values":[{}]},"mark":{"type":"rule","strokeDash":[2,3],"strokeWidth":1.5},"encoding":{"x":{"datum":0,"type":"quantitative","title":null,"axis":{"orient":"top","values":[-15,0,15,30,45,60,75,90,105,120,135,150,165,180,195]}},"x2":{"datum":180},"y":{"datum":1,"type":"quantitative","title":null,"axis":{"orient":"right","values":[0.4,0.6,0.8,1,1.2,1.4,1.6,1.8,2]}}}},
 {"data":{"values":[{}]},"mark":{"type":"text","text":"¹⁰⁰Zr"},"encoding":{"x":{"datum":-4,"type":"quantitative","axis":null},"y":{"datum":1.62,"type":"quantitative","axis":null}}}
],"resolve":{"axis":{"x":"independent","y":"independent"}}},
{"vconcat": [
 {"width":591,"height":73.25,"data":{"values":[{}]},"mark":{"type":"text","text":""},"view":{"stroke":null}},
 {"width":489,"height":111,"view":{"stroke":"#ff0000","strokeWidth":9},"data":{"values":[{"t":"𝑐𝒥₁𝒥₂(⁸²Ge) = 0.203"}]},"mark":{"type":"text","font":"Liberation Serif","fontWeight":"normal","align":"center","baseline":"middle","fontSize":52},"encoding":{"text":{"field":"t"}}},
 {"width":397,"height":111,"view":{"stroke":"#0070c0","strokeWidth":9},"data":{"values":[{"t":"𝑐𝒥₁𝒥₂(⁹⁴Kr) = 0"}]},"mark":{"type":"text","font":"Liberation Serif","fontWeight":"normal","align":"center","baseline":"middle","fontSize":52},"encoding":{"text":{"field":"t"}}}
], "spacing": 36, "bounds": "flush", "center": true}
]},
{"columns": 4, "spacing": 0, "bounds": "flush", "concat": [
{"width":227,"height":227.5,"title":{"text":"²³²Th(n,f)","fontSize":52,"fontWeight":"bold","dx":-264,"offset":-40,"baseline":"alphabetic"},"data":{"name":"d"},"transform":[{"filter":"datum.n==='130Sn'"}],"layer":[
 {"mark":{"type":"line","interpolate":"monotone"},"encoding":{"x":{"field":"phi","type":"quantitative","scale":{"domain":[-26,202]},"title":null,"axis":{"values":[-15,0,15,30,45,60,75,90,105,120,135,150,165,180,195]}},"y":{"field":"w","type":"quantitative","scale":{"domain":[0.357,2.195]},"title":null,"axis":{"values":[0.4,0.6,0.8,1,1.2,1.4,1.6,1.8,2],"labels":true,"labelOverlap":false}}}},
 {"data":{"values":[{}]},"mark":{"type":"rule","strokeDash":[2,3],"strokeWidth":1.5},"encoding":{"x":{"datum":0,"type":"quantitative","title":null,"axis":{"orient":"top","values":[-15,0,15,30,45,60,75,90,105,120,135,150,165,180,195]}},"x2":{"datum":180},"y":{"datum":1,"type":"quantitative","title":null,"axis":{"orient":"right","values":[0.4,0.6,0.8,1,1.2,1.4,1.6,1.8,2]}}}},
 {"data":{"values":[{}]},"mark":{"type":"text","text":"¹³⁰Sn"},"encoding":{"x":{"datum":-5,"type":"quantitative","axis":null},"y":{"datum":1.62,"type":"quantitative","axis":null}}}
],"resolve":{"axis":{"x":"independent","y":"independent"}}},
{"width":227,"height":227.5,"title":{"text":"HEAVY FRAGMENT","fontSize":44,"dx":95.5,"offset":-15,"baseline":"alphabetic"},"data":{"name":"d"},"transform":[{"filter":"datum.n==='132Sn'"}],"layer":[
 {"mark":{"type":"line","interpolate":"monotone"},"encoding":{"x":{"field":"phi","type":"quantitative","scale":{"domain":[-26,202]},"title":null,"axis":{"values":[-15,0,15,30,45,60,75,90,105,120,135,150,165,180,195]}},"y":{"field":"w","type":"quantitative","scale":{"domain":[0.357,2.195]},"title":null,"axis":{"values":[0.4,0.6,0.8,1,1.2,1.4,1.6,1.8,2]}}}},
 {"data":{"values":[{}]},"mark":{"type":"rule","strokeDash":[2,3],"strokeWidth":1.5},"encoding":{"x":{"datum":0,"type":"quantitative","title":null,"axis":{"orient":"top","values":[-15,0,15,30,45,60,75,90,105,120,135,150,165,180,195]}},"x2":{"datum":180},"y":{"datum":1,"type":"quantitative","title":null,"axis":{"orient":"right","values":[0.4,0.6,0.8,1,1.2,1.4,1.6,1.8,2]}}}},
 {"data":{"values":[{}]},"mark":{"type":"text","text":"¹³²Sn"},"encoding":{"x":{"datum":-5,"type":"quantitative","axis":null},"y":{"datum":1.62,"type":"quantitative","axis":null}}}
],"resolve":{"axis":{"x":"independent","y":"independent"}}},
{"width":227,"height":227.5,"data":{"name":"d"},"transform":[{"filter":"datum.n==='132Te'"}],"layer":[
 {"mark":{"type":"line","interpolate":"monotone"},"encoding":{"x":{"field":"phi","type":"quantitative","scale":{"domain":[-26,202]},"title":null,"axis":{"values":[-15,0,15,30,45,60,75,90,105,120,135,150,165,180,195]}},"y":{"field":"w","type":"quantitative","scale":{"domain":[0.357,2.195]},"title":null,"axis":{"values":[0.4,0.6,0.8,1,1.2,1.4,1.6,1.8,2]}}}},
 {"data":{"values":[{}]},"mark":{"type":"rule","strokeDash":[2,3],"strokeWidth":1.5},"encoding":{"x":{"datum":0,"type":"quantitative","title":null,"axis":{"orient":"top","values":[-15,0,15,30,45,60,75,90,105,120,135,150,165,180,195]}},"x2":{"datum":180},"y":{"datum":1,"type":"quantitative","title":null,"axis":{"orient":"right","values":[0.4,0.6,0.8,1,1.2,1.4,1.6,1.8,2]}}}},
 {"data":{"values":[{}]},"mark":{"type":"text","text":"¹³²Te"},"encoding":{"x":{"datum":-5,"type":"quantitative","axis":null},"y":{"datum":1.62,"type":"quantitative","axis":null}}}
],"resolve":{"axis":{"x":"independent","y":"independent"}}},
{"width":227,"height":227.5,"data":{"name":"d"},"transform":[{"filter":"datum.n==='134Te'"}],"layer":[
 {"mark":{"type":"line","interpolate":"monotone"},"encoding":{"x":{"field":"phi","type":"quantitative","scale":{"domain":[-26,202]},"title":null,"axis":{"values":[-15,0,15,30,45,60,75,90,105,120,135,150,165,180,195]}},"y":{"field":"w","type":"quantitative","scale":{"domain":[0.357,2.195]},"title":null,"axis":{"values":[0.4,0.6,0.8,1,1.2,1.4,1.6,1.8,2]}}}},
 {"data":{"values":[{}]},"mark":{"type":"rule","strokeDash":[2,3],"strokeWidth":1.5},"encoding":{"x":{"datum":0,"type":"quantitative","title":null,"axis":{"orient":"top","values":[-15,0,15,30,45,60,75,90,105,120,135,150,165,180,195]}},"x2":{"datum":180},"y":{"datum":1,"type":"quantitative","title":null,"axis":{"orient":"right","values":[0.4,0.6,0.8,1,1.2,1.4,1.6,1.8,2]}}}},
 {"data":{"values":[{}]},"mark":{"type":"text","text":"¹³⁴Te"},"encoding":{"x":{"datum":-5,"type":"quantitative","axis":null},"y":{"datum":1.62,"type":"quantitative","axis":null}}}
],"resolve":{"axis":{"x":"independent","y":"independent"}}},
{"width":227,"height":227.5,"data":{"name":"d"},"transform":[{"filter":"datum.n==='136Te'"}],"layer":[
 {"mark":{"type":"line","interpolate":"monotone"},"encoding":{"x":{"field":"phi","type":"quantitative","scale":{"domain":[-26,202]},"title":null,"axis":{"values":[-15,0,15,30,45,60,75,90,105,120,135,150,165,180,195]}},"y":{"field":"w","type":"quantitative","scale":{"domain":[0.357,2.195]},"title":"w(φ)","axis":{"values":[0.4,0.6,0.8,1,1.2,1.4,1.6,1.8,2],"labels":true,"labelOverlap":false,"titleFontSize":78,"titleFontStyle":"italic","titleX":-76,"titleY":259.5,"titleAngle":270,"titleAlign":"center","titleBaseline":"alphabetic"}}}},
 {"data":{"values":[{}]},"mark":{"type":"rule","strokeDash":[2,3],"strokeWidth":1.5},"encoding":{"x":{"datum":0,"type":"quantitative","title":null,"axis":{"orient":"top","values":[-15,0,15,30,45,60,75,90,105,120,135,150,165,180,195]}},"x2":{"datum":180},"y":{"datum":1,"type":"quantitative","title":null,"axis":{"orient":"right","values":[0.4,0.6,0.8,1,1.2,1.4,1.6,1.8,2]}}}},
 {"data":{"values":[{}]},"mark":{"type":"text","text":"¹³⁶Te"},"encoding":{"x":{"datum":-5,"type":"quantitative","axis":null},"y":{"datum":1.62,"type":"quantitative","axis":null}}}
],"resolve":{"axis":{"x":"independent","y":"independent"}}},
{"width":227,"height":227.5,"data":{"name":"d"},"transform":[{"filter":"datum.n==='138Te'"}],"layer":[
 {"mark":{"type":"line","interpolate":"monotone"},"encoding":{"x":{"field":"phi","type":"quantitative","scale":{"domain":[-26,202]},"title":null,"axis":{"values":[-15,0,15,30,45,60,75,90,105,120,135,150,165,180,195]}},"y":{"field":"w","type":"quantitative","scale":{"domain":[0.357,2.195]},"title":null,"axis":{"values":[0.4,0.6,0.8,1,1.2,1.4,1.6,1.8,2]}}}},
 {"data":{"values":[{}]},"mark":{"type":"rule","strokeDash":[2,3],"strokeWidth":1.5},"encoding":{"x":{"datum":0,"type":"quantitative","title":null,"axis":{"orient":"top","values":[-15,0,15,30,45,60,75,90,105,120,135,150,165,180,195]}},"x2":{"datum":180},"y":{"datum":1,"type":"quantitative","title":null,"axis":{"orient":"right","values":[0.4,0.6,0.8,1,1.2,1.4,1.6,1.8,2]}}}},
 {"data":{"values":[{}]},"mark":{"type":"text","text":"¹³⁸Te"},"encoding":{"x":{"datum":-5,"type":"quantitative","axis":null},"y":{"datum":1.62,"type":"quantitative","axis":null}}}
],"resolve":{"axis":{"x":"independent","y":"independent"}}},
{"width":227,"height":227.5,"data":{"name":"d"},"transform":[{"filter":"datum.n==='138Xe'"}],"layer":[
 {"mark":{"type":"line","interpolate":"monotone"},"encoding":{"x":{"field":"phi","type":"quantitative","scale":{"domain":[-26,202]},"title":null,"axis":{"values":[-15,0,15,30,45,60,75,90,105,120,135,150,165,180,195]}},"y":{"field":"w","type":"quantitative","scale":{"domain":[0.357,2.195]},"title":null,"axis":{"values":[0.4,0.6,0.8,1,1.2,1.4,1.6,1.8,2]}}}},
 {"data":{"values":[{}]},"mark":{"type":"rule","strokeDash":[2,3],"strokeWidth":1.5},"encoding":{"x":{"datum":0,"type":"quantitative","title":null,"axis":{"orient":"top","values":[-15,0,15,30,45,60,75,90,105,120,135,150,165,180,195]}},"x2":{"datum":180},"y":{"datum":1,"type":"quantitative","title":null,"axis":{"orient":"right","values":[0.4,0.6,0.8,1,1.2,1.4,1.6,1.8,2]}}}},
 {"data":{"values":[{}]},"mark":{"type":"text","text":"¹³⁸Xe"},"encoding":{"x":{"datum":-5,"type":"quantitative","axis":null},"y":{"datum":1.62,"type":"quantitative","axis":null}}}
],"resolve":{"axis":{"x":"independent","y":"independent"}}},
{"width":227,"height":227.5,"data":{"name":"d"},"transform":[{"filter":"datum.n==='140Xe'"}],"layer":[
 {"mark":{"type":"line","interpolate":"monotone"},"encoding":{"x":{"field":"phi","type":"quantitative","scale":{"domain":[-26,202]},"title":null,"axis":{"values":[-15,0,15,30,45,60,75,90,105,120,135,150,165,180,195]}},"y":{"field":"w","type":"quantitative","scale":{"domain":[0.357,2.195]},"title":null,"axis":{"values":[0.4,0.6,0.8,1,1.2,1.4,1.6,1.8,2]}}}},
 {"data":{"values":[{}]},"mark":{"type":"rule","strokeDash":[2,3],"strokeWidth":1.5},"encoding":{"x":{"datum":0,"type":"quantitative","title":null,"axis":{"orient":"top","values":[-15,0,15,30,45,60,75,90,105,120,135,150,165,180,195]}},"x2":{"datum":180},"y":{"datum":1,"type":"quantitative","title":null,"axis":{"orient":"right","values":[0.4,0.6,0.8,1,1.2,1.4,1.6,1.8,2]}}}},
 {"data":{"values":[{}]},"mark":{"type":"text","text":"¹⁴⁰Xe"},"encoding":{"x":{"datum":-5,"type":"quantitative","axis":null},"y":{"datum":1.62,"type":"quantitative","axis":null}}}
],"resolve":{"axis":{"x":"independent","y":"independent"}}},
{"width":227,"height":227.5,"data":{"name":"d"},"transform":[{"filter":"datum.n==='142Xe'"}],"layer":[
 {"mark":{"type":"line","interpolate":"monotone"},"encoding":{"x":{"field":"phi","type":"quantitative","scale":{"domain":[-26,202]},"title":null,"axis":{"values":[-15,0,15,30,45,60,75,90,105,120,135,150,165,180,195]}},"y":{"field":"w","type":"quantitative","scale":{"domain":[0.357,2.195]},"title":null,"axis":{"values":[0.4,0.6,0.8,1,1.2,1.4,1.6,1.8,2],"labels":true,"labelOverlap":false}}}},
 {"data":{"values":[{}]},"mark":{"type":"rule","strokeDash":[2,3],"strokeWidth":1.5},"encoding":{"x":{"datum":0,"type":"quantitative","title":null,"axis":{"orient":"top","values":[-15,0,15,30,45,60,75,90,105,120,135,150,165,180,195]}},"x2":{"datum":180},"y":{"datum":1,"type":"quantitative","title":null,"axis":{"orient":"right","values":[0.4,0.6,0.8,1,1.2,1.4,1.6,1.8,2]}}}},
 {"data":{"values":[{}]},"mark":{"type":"text","text":"¹⁴²Xe"},"encoding":{"x":{"datum":-5,"type":"quantitative","axis":null},"y":{"datum":1.62,"type":"quantitative","axis":null}}}
],"resolve":{"axis":{"x":"independent","y":"independent"}}},
{"width":227,"height":227.5,"data":{"name":"d"},"transform":[{"filter":"datum.n==='142Ba'"}],"layer":[
 {"mark":{"type":"line","interpolate":"monotone"},"encoding":{"x":{"field":"phi","type":"quantitative","scale":{"domain":[-26,202]},"title":null,"axis":{"values":[-15,0,15,30,45,60,75,90,105,120,135,150,165,180,195]}},"y":{"field":"w","type":"quantitative","scale":{"domain":[0.357,2.195]},"title":null,"axis":{"values":[0.4,0.6,0.8,1,1.2,1.4,1.6,1.8,2]}}}},
 {"data":{"values":[{}]},"mark":{"type":"rule","strokeDash":[2,3],"strokeWidth":1.5},"encoding":{"x":{"datum":0,"type":"quantitative","title":null,"axis":{"orient":"top","values":[-15,0,15,30,45,60,75,90,105,120,135,150,165,180,195]}},"x2":{"datum":180},"y":{"datum":1,"type":"quantitative","title":null,"axis":{"orient":"right","values":[0.4,0.6,0.8,1,1.2,1.4,1.6,1.8,2]}}}},
 {"data":{"values":[{}]},"mark":{"type":"text","text":"¹⁴²Ba"},"encoding":{"x":{"datum":-5,"type":"quantitative","axis":null},"y":{"datum":1.62,"type":"quantitative","axis":null}}}
],"resolve":{"axis":{"x":"independent","y":"independent"}}},
{"width":227,"height":227.5,"data":{"name":"d"},"transform":[{"filter":"datum.n==='144Ba'"}],"layer":[
 {"mark":{"type":"line","interpolate":"monotone"},"encoding":{"x":{"field":"phi","type":"quantitative","scale":{"domain":[-26,202]},"title":null,"axis":{"values":[-15,0,15,30,45,60,75,90,105,120,135,150,165,180,195],"labels":true,"labelOverlap":false,"labelFlush":false}},"y":{"field":"w","type":"quantitative","scale":{"domain":[0.357,2.195]},"title":null,"axis":{"values":[0.4,0.6,0.8,1,1.2,1.4,1.6,1.8,2]}}}},
 {"data":{"values":[{}]},"mark":{"type":"rule","strokeDash":[2,3],"strokeWidth":1.5},"encoding":{"x":{"datum":0,"type":"quantitative","title":null,"axis":{"orient":"top","values":[-15,0,15,30,45,60,75,90,105,120,135,150,165,180,195]}},"x2":{"datum":180},"y":{"datum":1,"type":"quantitative","title":null,"axis":{"orient":"right","values":[0.4,0.6,0.8,1,1.2,1.4,1.6,1.8,2]}}}},
 {"data":{"values":[{}]},"mark":{"type":"text","text":"¹⁴⁴Ba"},"encoding":{"x":{"datum":-5,"type":"quantitative","axis":null},"y":{"datum":1.62,"type":"quantitative","axis":null}}}
],"resolve":{"axis":{"x":"independent","y":"independent"}}},
{"width":227,"height":227.5,"data":{"name":"d"},"transform":[{"filter":"datum.n==='146Ba'"}],"layer":[
 {"mark":{"type":"line","interpolate":"monotone"},"encoding":{"x":{"field":"phi","type":"quantitative","scale":{"domain":[-26,202]},"title":null,"axis":{"values":[-15,0,15,30,45,60,75,90,105,120,135,150,165,180,195],"labels":true,"labelOverlap":false,"labelFlush":false}},"y":{"field":"w","type":"quantitative","scale":{"domain":[0.357,2.195]},"title":null,"axis":{"values":[0.4,0.6,0.8,1,1.2,1.4,1.6,1.8,2]}}}},
 {"data":{"values":[{}]},"mark":{"type":"rule","strokeDash":[2,3],"strokeWidth":1.5},"encoding":{"x":{"datum":0,"type":"quantitative","title":null,"axis":{"orient":"top","values":[-15,0,15,30,45,60,75,90,105,120,135,150,165,180,195]}},"x2":{"datum":180},"y":{"datum":1,"type":"quantitative","title":null,"axis":{"orient":"right","values":[0.4,0.6,0.8,1,1.2,1.4,1.6,1.8,2]}}}},
 {"data":{"values":[{}]},"mark":{"type":"text","text":"¹⁴⁶Ba"},"encoding":{"x":{"datum":-5,"type":"quantitative","axis":null},"y":{"datum":1.62,"type":"quantitative","axis":null}}}
],"resolve":{"axis":{"x":"independent","y":"independent"}}},
{"width":227,"height":227.5,"data":{"name":"d"},"transform":[{"filter":"datum.n==='148Ce'"}],"layer":[
 {"mark":{"type":"line","interpolate":"monotone"},"encoding":{"x":{"field":"phi","type":"quantitative","scale":{"domain":[-26,202]},"title":null,"axis":{"values":[-15,0,15,30,45,60,75,90,105,120,135,150,165,180,195],"labels":true,"labelOverlap":false,"labelFlush":false}},"y":{"field":"w","type":"quantitative","scale":{"domain":[0.357,2.195]},"title":null,"axis":{"values":[0.4,0.6,0.8,1,1.2,1.4,1.6,1.8,2],"labels":true,"labelOverlap":false}}}},
 {"data":{"values":[{}]},"mark":{"type":"rule","strokeDash":[2,3],"strokeWidth":1.5},"encoding":{"x":{"datum":0,"type":"quantitative","title":null,"axis":{"orient":"top","values":[-15,0,15,30,45,60,75,90,105,120,135,150,165,180,195]}},"x2":{"datum":180},"y":{"datum":1,"type":"quantitative","title":null,"axis":{"orient":"right","values":[0.4,0.6,0.8,1,1.2,1.4,1.6,1.8,2]}}}},
 {"data":{"values":[{}]},"mark":{"type":"text","text":"¹⁴⁸Ce"},"encoding":{"x":{"datum":-5,"type":"quantitative","axis":null},"y":{"datum":1.62,"type":"quantitative","axis":null}}}
],"resolve":{"axis":{"x":"independent","y":"independent"}}},
{"width":227,"height":227.5,"data":{"name":"d"},"transform":[{"filter":"datum.n==='150Ce'"}],"layer":[
 {"mark":{"type":"line","interpolate":"monotone"},"encoding":{"x":{"field":"phi","type":"quantitative","scale":{"domain":[-26,202]},"title":"φ, deg","axis":{"values":[-15,0,15,30,45,60,75,90,105,120,135,150,165,180,195],"labels":true,"labelOverlap":false,"labelFlush":false,"titleFontSize":68,"titleX":206,"titleY":134,"titleAlign":"center","titleBaseline":"alphabetic","titleAngle":0}},"y":{"field":"w","type":"quantitative","scale":{"domain":[0.357,2.195]},"title":null,"axis":{"values":[0.4,0.6,0.8,1,1.2,1.4,1.6,1.8,2]}}}},
 {"data":{"values":[{}]},"mark":{"type":"rule","strokeDash":[2,3],"strokeWidth":1.5},"encoding":{"x":{"datum":0,"type":"quantitative","title":null,"axis":{"orient":"top","values":[-15,0,15,30,45,60,75,90,105,120,135,150,165,180,195]}},"x2":{"datum":180},"y":{"datum":1,"type":"quantitative","title":null,"axis":{"orient":"right","values":[0.4,0.6,0.8,1,1.2,1.4,1.6,1.8,2]}}}},
 {"data":{"values":[{}]},"mark":{"type":"text","text":"¹⁵⁰Ce"},"encoding":{"x":{"datum":-5,"type":"quantitative","axis":null},"y":{"datum":1.62,"type":"quantitative","axis":null}}}
],"resolve":{"axis":{"x":"independent","y":"independent"}}}
]}
],
"spacing": 1303,
"bounds": "flush",
"config": {
 "view": {"stroke": "black", "strokeWidth": 2.5},
 "axis": {"domain": false, "grid": false, "labels": false, "tickColor": "black", "tickWidth": 2, "labelFont": "Liberation Serif", "labelFontSize": 50, "labelColor": "black", "labelOverlap": false, "labelBound": false, "labelFlush": false, "titleFont": "Liberation Serif", "titleColor": "black", "titleFontWeight": "normal", "titlePadding": 0},
 "axisX": {"tickSize": {"condition": {"test": "datum.value % 90 === 0", "value": -22}, "value": -12}, "labelPadding": 31, "labelExpr": "datum.value === 0 ? '0' : datum.value === 90 ? '90' : datum.value === 180 ? '180' : ''"},
 "axisY": {"tickSize": {"condition": {"test": "datum.value === 1 || datum.value === 2", "value": -18}, "value": -9}, "labelPadding": 38, "labelExpr": "datum.value === 1 ? '1' : datum.value === 2 ? '2' : ''"},
 "line": {"color": "black", "strokeWidth": 4},
 "rule": {"color": "black"},
 "text": {"font": "DejaVu Serif", "fontSize": 48, "fontWeight": "bold", "align": "left", "baseline": "alphabetic", "color": "black"},
 "title": {"font": "Liberation Serif", "fontWeight": "normal", "color": "black", "frame": "group", "anchor": "middle"}
}
}
